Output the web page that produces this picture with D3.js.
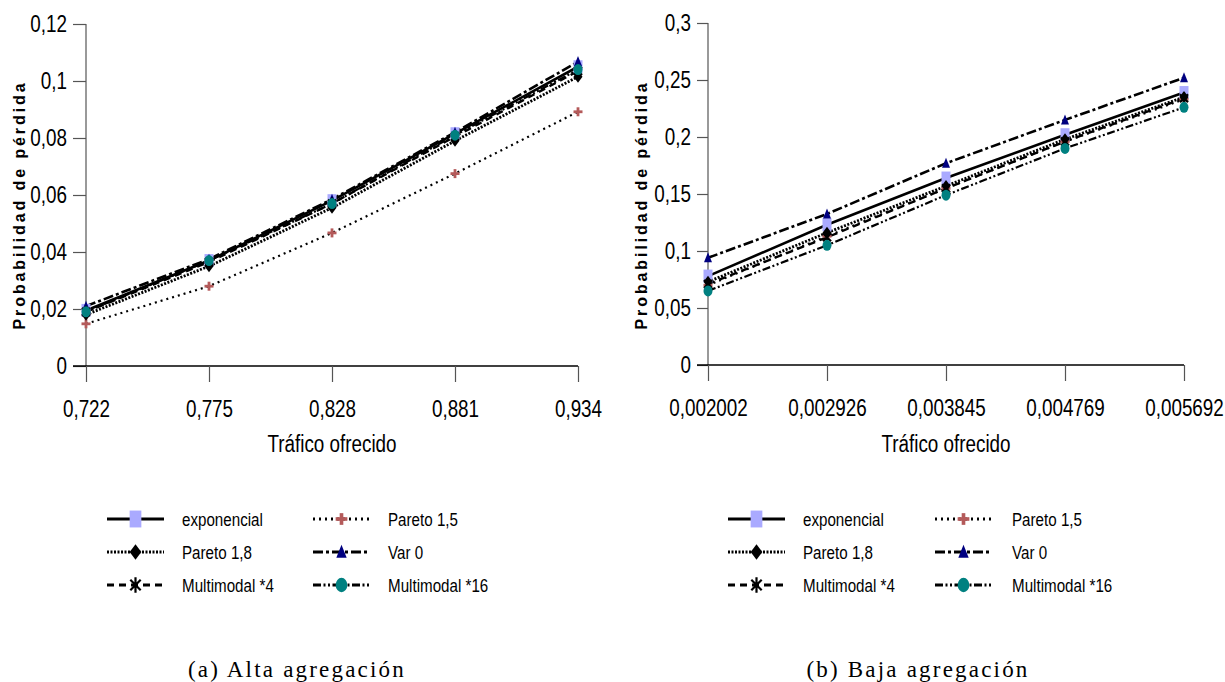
<!DOCTYPE html>
<html>
<head>
<meta charset="utf-8">
<script src="https://cdn.jsdelivr.net/npm/d3@7"></script>
<style>
  body { margin: 0; background: #fff; }
  svg { display: block; }
  .tick text { font-family: "Liberation Sans", Arial, sans-serif; }
</style>
</head>
<body>
<svg id="chart" width="1225" height="682"></svg>
<script>
// ---------- DATA ----------
const seriesNames = ["exponencial", "Pareto 1,5", "Pareto 1,8", "Var 0", "Multimodal *4", "Multimodal *16"];

// (a) Alta agregación
const trafficA = ["0,722", "0,775", "0,828", "0,881", "0,934"];
const yTicksA = [0, 0.02, 0.04, 0.06, 0.08, 0.1, 0.12];
const yTickLabelsA = ["0", "0,02", "0,04", "0,06", "0,08", "0,1", "0,12"];
const expA   = [0.0195, 0.0370, 0.0580, 0.0815, 0.1050];
const par15A = [0.0148, 0.0280, 0.0467, 0.0675, 0.0892];
const par18A = [0.0180, 0.0350, 0.0555, 0.0790, 0.1015];
const var0A  = [0.0210, 0.0375, 0.0585, 0.0820, 0.1068];
const mm4A   = [0.0190, 0.0365, 0.0570, 0.0805, 0.1035];
const mm16A  = [0.0190, 0.0370, 0.0570, 0.0810, 0.1040];

// (b) Baja agregación
const trafficB = ["0,002002", "0,002926", "0,003845", "0,004769", "0,005692"];
const yTicksB = [0, 0.05, 0.1, 0.15, 0.2, 0.25, 0.3];
const yTickLabelsB = ["0", "0,05", "0,1", "0,15", "0,2", "0,25", "0,3"];
const expB   = [0.0780, 0.1230, 0.1640, 0.2020, 0.2390];
const par15B = [0.0700, 0.1130, 0.1550, 0.1960, 0.2330];
const par18B = [0.0730, 0.1160, 0.1570, 0.1980, 0.2350];
const var0B  = [0.0940, 0.1325, 0.1770, 0.2150, 0.2520];
const mm4B   = [0.0710, 0.1120, 0.1550, 0.1960, 0.2340];
const mm16B  = [0.0650, 0.1050, 0.1490, 0.1900, 0.2260];

const xTitle = "Tráfico ofrecido";
const yTitle = "Probabilidad de pérdida";
const captions = ["(a) Alta agregación", "(b) Baja agregación"];

// ---------- STYLES ----------
const styles = [
  { dash: null,              width: 2.6, marker: "square",   fill: "#aaaaff" },
  { dash: "2,4",             width: 2.2, marker: "plus",     fill: "#b45a5a" },
  { dash: "2,1.5",           width: 2.8, marker: "diamond",  fill: "#000000" },
  { dash: "10,3,3,3",        width: 2.6, marker: "triangle", fill: "#000080" },
  { dash: "7,5",             width: 2.4, marker: "star",     fill: "#000000" },
  { dash: "8,2.5,2,2.5,2,2.5", width: 2.2, marker: "circle", fill: "#008080" }
];

const SX = 0.82; // horizontal condensing to emulate a narrow sans face
const sansF = '"Liberation Sans", Arial, sans-serif';
const svg = d3.select("#chart");

function narrowText(parent, x, y, str, size, anchor) {
  return parent.append("text")
    .attr("transform", `translate(${x},${y}) scale(${SX},1)`)
    .attr("text-anchor", anchor || "start")
    .attr("font-family", sansF).attr("font-size", size).text(str);
}

function drawMarker(g, type, fill, k) {
  if (type === "square") {
    g.append("rect").attr("x", -4.5 * k).attr("y", -6.5 * k).attr("width", 9 * k).attr("height", 13 * k).attr("fill", fill);
  } else if (type === "plus") {
    g.append("rect").attr("x", -4.5 * k).attr("y", -1.4 * k).attr("width", 9 * k).attr("height", 2.8 * k).attr("fill", fill);
    g.append("rect").attr("x", -1.4 * k).attr("y", -4.5 * k).attr("width", 2.8 * k).attr("height", 9 * k).attr("fill", fill);
  } else if (type === "diamond") {
    g.append("path").attr("d", `M0,${-6 * k}L${4.5 * k},0L0,${6 * k}L${-4.5 * k},0Z`).attr("fill", fill);
  } else if (type === "triangle") {
    g.append("path").attr("d", `M0,${-5.5 * k}L${4 * k},${4.5 * k}L${-4 * k},${4.5 * k}Z`).attr("fill", fill);
  } else if (type === "star") {
    g.append("path").attr("d", `M0,${-6 * k}V${6 * k}M${-4 * k},${-4 * k}L${4 * k},${4 * k}M${-4 * k},${4 * k}L${4 * k},${-4 * k}`)
      .attr("stroke", fill).attr("stroke-width", 2.2).attr("fill", "none");
  } else if (type === "circle") {
    g.append("ellipse").attr("rx", 4.5 * k).attr("ry", 5.5 * k).attr("fill", fill);
  }
}

function panel(cfg) {
  const x = d3.scalePoint().domain(cfg.cats).range([cfg.x0, cfg.x1]).padding(0);
  const y = d3.scaleLinear().domain([0, cfg.yMax]).range([cfg.yBottom, cfg.yTop]);
  const g = svg.append("g");

  // y axis
  const ya = g.append("g").attr("transform", `translate(${cfg.x0},0)`)
    .call(d3.axisLeft(y).tickValues(cfg.yTicks).tickSize(cfg.yTickLen).tickPadding(6)
      .tickFormat((d, i) => cfg.yLabels[i]));
  ya.select(".domain").attr("stroke", "#555").attr("stroke-width", 1.2).attr("d", `M0,${cfg.yTop}V${cfg.yBottom}`);
  ya.selectAll(".tick line").attr("stroke", "#555").attr("stroke-width", 1.2);
  ya.selectAll(".tick text").attr("font-size", 23).attr("fill", "#000").attr("dy", "0.34em")
    .attr("x", -(cfg.yTickLen + 6) / SX).attr("transform", `scale(${SX},1)`);

  // x axis
  const xa = g.append("g").attr("transform", `translate(0,${cfg.yBottom})`)
    .call(d3.axisBottom(x).tickSize(16).tickPadding(19));
  xa.select(".domain").attr("stroke", "#000").attr("stroke-width", 1.4)
    .attr("d", `M${cfg.x0 - cfg.yTickLen},0H${cfg.x1}`);
  xa.selectAll(".tick line").attr("stroke", "#555").attr("stroke-width", 1.2);
  xa.selectAll(".tick text").attr("font-size", 23).attr("fill", "#000").attr("transform", `scale(${SX},1)`);

  // titles
  narrowText(g, (cfg.x0 + cfg.x1) / 2, 452, xTitle, 23, "middle");
  g.append("text").attr("transform", `translate(${cfg.x0 - 61},205) rotate(-90)`).attr("text-anchor", "middle")
    .attr("font-family", sansF).attr("font-weight", "bold")
    .attr("font-size", 16).attr("letter-spacing", 2.9).text(yTitle);

  // lines
  const line = d3.line().x((d, i) => x(cfg.cats[i])).y(d => y(d));
  cfg.series.forEach((s, si) => {
    const st = styles[si];
    g.append("path").attr("d", line(s)).attr("fill", "none").attr("stroke", "#000")
      .attr("stroke-width", st.width).attr("stroke-dasharray", st.dash);
  });
  // markers
  cfg.series.forEach((s, si) => {
    const st = styles[si];
    s.forEach((v, i) => {
      const mg = g.append("g").attr("transform", `translate(${x(cfg.cats[i])},${y(v)})`);
      drawMarker(mg, st.marker, st.fill, 1);
    });
  });

  // legend
  const rows = [519, 552, 585];
  seriesNames.forEach((name, si) => {
    const col = si % 2, row = Math.floor(si / 2);
    const lx = cfg.legX[col], ly = rows[row];
    const st = styles[si];
    const lg = g.append("g");
    lg.append("line").attr("x1", lx).attr("x2", lx + 57).attr("y1", ly).attr("y2", ly)
      .attr("stroke", "#000").attr("stroke-width", 3).attr("stroke-dasharray", st.dash);
    const mg = lg.append("g").attr("transform", `translate(${lx + 28.5},${ly})`);
    drawMarker(mg, st.marker, st.fill, 1.3);
    narrowText(lg, cfg.legTextX[col], ly + 6.5, name, 18.5, "start");
  });

  // caption
  g.append("text").attr("x", cfg.capX).attr("y", 677).attr("text-anchor", "middle")
    .attr("font-family", '"Liberation Serif", "Times New Roman", serif').attr("font-size", 23)
    .attr("letter-spacing", 2.2).text(cfg.caption);
}

panel({
  cats: trafficA, x0: 86, x1: 578, yTop: 24, yBottom: 366, yMax: 0.12,
  yTicks: yTicksA, yLabels: yTickLabelsA, yTickLen: 13,
  series: [expA, par15A, par18A, var0A, mm4A, mm16A],
  legX: [107, 313], legTextX: [182, 388], capX: 297, caption: captions[0]
});
panel({
  cats: trafficB, x0: 708, x1: 1184, yTop: 23, yBottom: 365, yMax: 0.3,
  yTicks: yTicksB, yLabels: yTickLabelsB, yTickLen: 11,
  series: [expB, par15B, par18B, var0B, mm4B, mm16B],
  legX: [728, 935], legTextX: [803, 1012], capX: 918, caption: captions[1]
});
</script>
</body>
</html>
